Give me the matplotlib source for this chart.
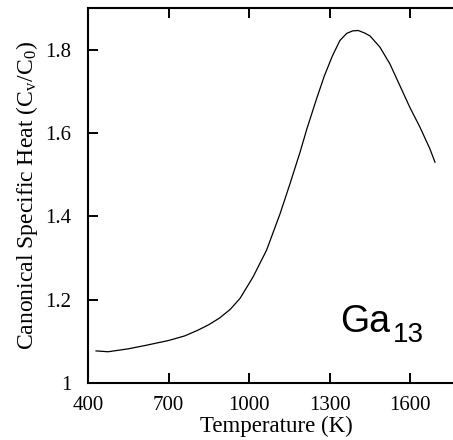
import matplotlib
matplotlib.use("Agg")
import matplotlib.pyplot as plt

# Ga13 canonical specific heat
temperature = [430, 475, 550, 620, 700, 760, 810, 850, 890, 930, 966, 1015, 1065,
               1115, 1152, 1190, 1215, 1250, 1280, 1310, 1338, 1363, 1385, 1406,
               1430, 1450, 1487, 1524, 1561, 1598, 1636, 1673, 1692]
cv_ratio = [1.077, 1.075, 1.082, 1.091, 1.102, 1.113, 1.127, 1.140, 1.156, 1.177, 1.203,
            1.255, 1.319, 1.406, 1.478, 1.555, 1.610, 1.680, 1.737, 1.785, 1.822, 1.839,
            1.845, 1.846, 1.840, 1.833, 1.806, 1.766, 1.714, 1.662, 1.614, 1.562, 1.530]

xticks = [400, 700, 1000, 1300, 1600]
yticks = [1.0, 1.2, 1.4, 1.6, 1.8]
ytick_labels = ["1", "1.2", "1.4", "1.6", "1.8"]

plt.rcParams['font.family'] = ['Liberation Serif', 'DejaVu Serif']
plt.rcParams['mathtext.fontset'] = 'stix'

fig = plt.figure(figsize=(4.53, 4.40), dpi=100)
ax = fig.add_axes([88 / 453, 57 / 440, 376 / 453, 375 / 440])

ax.plot(temperature, cv_ratio, color='black', lw=0.9)

ax.set_xlim(400, 1800)
ax.set_ylim(1.0, 1.9)
ax.set_xticks(xticks)
ax.set_yticks(yticks)
ax.set_yticklabels(ytick_labels)
ax.tick_params(direction='in', length=7.5, width=1.4, top=True, right=True,
               labelsize=15)
ax.tick_params(axis='x', pad=9)
ax.tick_params(axis='y', pad=12)
for s in ax.spines.values():
    s.set_linewidth(1.5)

ax.set_xlabel("Temperature (K)", fontsize=16.5, labelpad=1)
ax.set_ylabel(r"Canonical Specific Heat (C$_\mathregular{v}$/C$_\mathregular{0}$)",
              fontsize=17, labelpad=4)

sans = ['Liberation Sans', 'DejaVu Sans']
ax.text(1338, 1.122, "Ga", fontsize=27, family=sans, va='baseline')
ax.text(1535, 1.098, "13", fontsize=20, family=sans, va='baseline')

fig.savefig("out.png", dpi=100)
